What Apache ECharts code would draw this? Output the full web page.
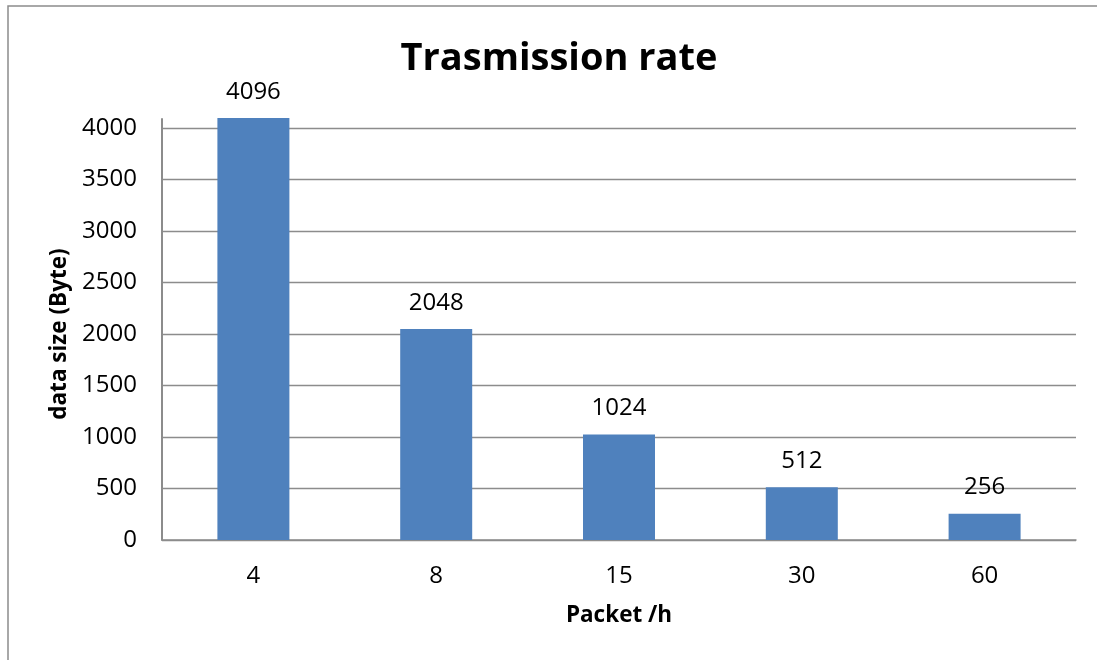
<!DOCTYPE html>
<html>
<head>
<meta charset="utf-8">
<script src="https://cdn.jsdelivr.net/npm/echarts@6/dist/echarts.min.js"></script>
<style>
  html, body { margin: 0; padding: 0; background: #ffffff; }
  #chart { width: 1097px; height: 660px; }
</style>
</head>
<body>
<div id="chart"></div>
<script>
// Packets per hour and the data size sent with each rate
const categories = ['4', '8', '15', '30', '60'];
const dataSize = [4096, 2048, 1024, 512, 256];
const yTicks = { min: 0, max: 4000, interval: 500 };

const FONT = '"Open Sans", Lato, sans-serif';
const GRID_LEFT = 162, GRID_RIGHT = 21, GRID_BOTTOM = 120;

const chart = echarts.init(document.getElementById('chart'), null, { renderer: 'canvas' });

chart.setOption({
  backgroundColor: '#ffffff',
  animation: false,
  title: {
    text: 'Trasmission rate',
    left: 554,
    top: 35,
    textAlign: 'center',
    textStyle: { fontFamily: FONT, fontSize: 38, fontWeight: 'bold', color: '#000000' }
  },
  graphic: [{
    type: 'rect',
    shape: { x: 8, y: 6, width: 1200, height: 800 },
    style: { fill: 'none', stroke: '#8c8c8c', lineWidth: 1.5 },
    silent: true
  }],
  grid: [
    { left: GRID_LEFT, right: GRID_RIGHT, top: 128, bottom: GRID_BOTTOM },
    // Second grid only carries the taller vertical axis line
    { left: GRID_LEFT, right: GRID_RIGHT, top: 119, bottom: GRID_BOTTOM }
  ],
  xAxis: [{
    gridIndex: 0,
    type: 'category',
    data: categories,
    name: 'Packet /h',
    nameLocation: 'middle',
    nameGap: 64,
    nameTextStyle: { fontFamily: FONT, fontSize: 22.5, fontWeight: 'bold', color: '#000000' },
    axisLine: { show: true, lineStyle: { color: '#8c8c8c', width: 1.5 } },
    axisTick: { show: false },
    axisLabel: { fontFamily: FONT, fontSize: 24, color: '#000000', margin: 24 }
  }, {
    gridIndex: 1,
    type: 'category',
    data: categories,
    show: false
  }],
  yAxis: [{
    gridIndex: 0,
    type: 'value',
    min: yTicks.min,
    max: yTicks.max,
    interval: yTicks.interval,
    name: 'data size (Byte)',
    nameLocation: 'middle',
    nameGap: 86,
    nameTextStyle: { fontFamily: FONT, fontSize: 22.5, fontWeight: 'bold', color: '#000000' },
    axisLine: { show: false },
    axisTick: { show: false },
    axisLabel: {
      fontFamily: FONT, fontSize: 24, color: '#000000', margin: 25,
      formatter: v => String(v)
    },
    splitLine: { show: true, lineStyle: { color: '#8c8c8c', width: 1.3 } }
  }, {
    gridIndex: 1,
    type: 'value',
    min: 0,
    max: 1,
    axisLine: { show: true, lineStyle: { color: '#8c8c8c', width: 2 } },
    axisTick: { show: false },
    axisLabel: { show: false },
    splitLine: { show: false }
  }],
  series: [{
    type: 'bar',
    xAxisIndex: 0,
    yAxisIndex: 0,
    data: dataSize,
    barWidth: 72,
    clip: false,
    itemStyle: { color: '#4f81bd' },
    label: {
      show: true,
      position: 'top',
      distance: 14,
      fontFamily: FONT,
      fontSize: 24,
      color: '#000000'
    }
  }]
});
</script>
</body>
</html>
